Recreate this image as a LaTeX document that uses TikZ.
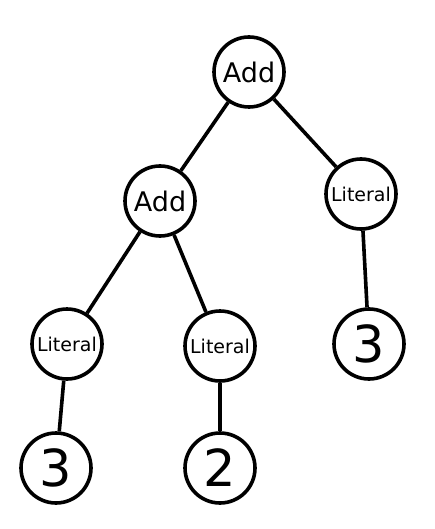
\documentclass[tikz,border=0pt]{standalone}
\usepackage{fontspec}
\setmainfont{DejaVu Sans}
\usepackage{tikz}
\usetikzlibrary{positioning}

\begin{document}
\begin{tikzpicture}[x=1pt, y=-1pt,
    treenode/.style={circle, draw=black, line width=3.6pt, minimum size=70pt, inner sep=0pt},
    opnode/.style={treenode, font=\fontsize{27}{27}\selectfont},
    litnode/.style={treenode, font=\fontsize{19}{19}\selectfont},
    valnode/.style={treenode, font=\fontsize{51}{51}\selectfont},
    edge/.style={line width=3.6pt}]
  \useasboundingbox (0,0) rectangle (435,529);

  % --- Operators ---
  \node[opnode] (addTop) at (249,72) {Add};
  \node[opnode] (addLeft) at (160,201) {Add};

  % --- Literals ---
  \node[litnode] (litRight) at (361,194) {Literal};
  \node[litnode] (litLeft) at (67,344) {Literal};
  \node[litnode] (litMid) at (220,346) {Literal};

  % --- Values ---
  \node[valnode] (valRight) at (369,344) {3};
  \node[valnode] (valLeft) at (56,468) {3};
  \node[valnode] (valMid) at (220,468) {2};

  % Edges
  \draw[edge] (addTop) -- (addLeft);
  \draw[edge] (addTop) -- (litRight);
  \draw[edge] (addLeft) -- (litLeft);
  \draw[edge] (addLeft) -- (litMid);
  \draw[edge] (litRight) -- (valRight);
  \draw[edge] (litLeft) -- (valLeft);
  \draw[edge] (litMid) -- (valMid);
\end{tikzpicture}
\end{document}
